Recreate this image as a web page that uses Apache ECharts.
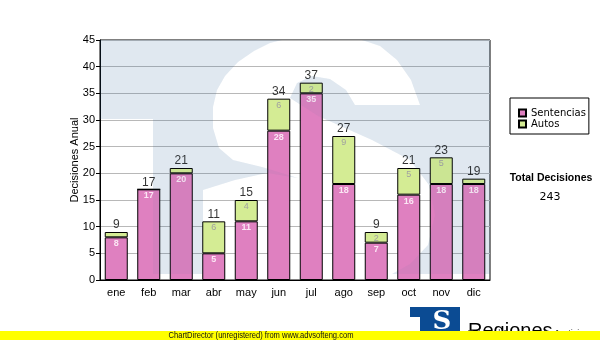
<!DOCTYPE html>
<html>
<head>
<meta charset="utf-8">
<script src="https://cdn.jsdelivr.net/npm/echarts@6/dist/echarts.min.js"></script>
<style>
  html, body { margin: 0; padding: 0; background: #fff; }
  #chart { width: 600px; height: 340px; }
</style>
</head>
<body>
<div id="chart"></div>
<script>
// Monthly decisions, split into sentences and writs
const months = ['ene', 'feb', 'mar', 'abr', 'may', 'jun', 'jul', 'ago', 'sep', 'oct', 'nov', 'dic'];
const sentencias = [8, 17, 20, 5, 11, 28, 35, 18, 7, 16, 18, 18];
const autos = [1, 0, 1, 6, 4, 6, 2, 9, 2, 5, 5, 1];
const seriesNames = ['Sentencias', 'Autos'];
const yMin = 0;
const yMax = 45;
const yStep = 5;

const totals = sentencias.map((v, i) => v + autos[i]);
const grandTotal = totals.reduce((a, b) => a + b, 0);

const AXIS_FONT = "'Liberation Sans', Arial, sans-serif";
const LEGEND_FONT = "'DejaVu Sans', Verdana, sans-serif";

// Faint "S" logo watermark in the plot, as the two blue pieces left on
// either side of the white letter. A stronger layer sits under the bars
// and a very light one over them, so the logo just tints the bars.
const watermarkLeft = [[100, 40], [282, 40], [270, 43], [254, 51], [238, 62], [225, 76], [217, 90],
  [213, 107], [213, 128], [219, 148], [233, 160], [262, 167], [298, 178], [267, 173], [235, 180],
  [203, 190], [203, 274], [153, 274], [153, 119], [100, 119]];
const watermarkRight = [[362, 40], [490, 40], [490, 274], [392, 274], [410, 264], [428, 245],
  [435, 215], [429, 185], [410, 160], [372, 140], [318, 116], [290, 98], [297, 83], [312, 76],
  [330, 79], [346, 90], [355, 105], [420, 105], [411, 80], [397, 60], [380, 46]];

function watermarkLayer(alpha, z) {
  const fill = 'rgba(51,102,153,' + alpha + ')';
  return [watermarkLeft, watermarkRight].map(points => ({
    type: 'polygon', z: z, silent: true,
    shape: { points: points },
    style: { fill: fill }
  }));
}

const chart = echarts.init(document.getElementById('chart'), null, { renderer: 'canvas' });

chart.setOption({
  animation: false,
  grid: {
    left: 100, right: 110, top: 40, bottom: 60,
    show: true, borderColor: '#000', borderWidth: 1, backgroundColor: 'transparent'
  },
  legend: {
    data: seriesNames,
    orient: 'vertical',
    left: 510, top: 98,
    padding: [10, 3, 5, 8],
    itemGap: 1,
    itemWidth: 7, itemHeight: 7,
    borderColor: '#000', borderWidth: 1,
    backgroundColor: '#fff',
    icon: 'rect',
    textStyle: { fontFamily: LEGEND_FONT, fontSize: 10, color: '#000', lineHeight: 10 }
  },
  xAxis: {
    type: 'category',
    data: months,
    axisLine: { lineStyle: { color: '#000', width: 1 } },
    axisTick: { alignWithLabel: true, length: 5, lineStyle: { color: '#000' } },
    axisLabel: { fontFamily: AXIS_FONT, fontSize: 11, color: '#000', margin: 7 }
  },
  yAxis: {
    type: 'value',
    min: yMin, max: yMax, interval: yStep,
    name: 'Decisiones Anual',
    nameLocation: 'middle',
    nameRotate: 90,
    nameGap: 20,
    nameMoveOverlap: false,
    nameTextStyle: { fontFamily: AXIS_FONT, fontSize: 11, color: '#000' },
    axisLine: { show: true, lineStyle: { color: '#000', width: 1 } },
    axisTick: { show: true, length: 4, lineStyle: { color: '#000' } },
    axisLabel: { fontFamily: AXIS_FONT, fontSize: 11, color: '#000', margin: 5 },
    splitLine: { lineStyle: { color: '#b8b8b8', width: 1 } }
  },
  series: [
    {
      name: seriesNames[0],
      type: 'bar',
      stack: 'total',
      data: sentencias,
      barWidth: 23,
      itemStyle: { color: '#df80c0', borderColor: '#000', borderWidth: 1 },
      label: {
        show: true, position: 'insideTop', distance: 2,
        fontFamily: AXIS_FONT, fontSize: 9, fontWeight: 'bold', color: '#fbe6f4',
        formatter: p => p.value > 1 ? String(p.value) : ''
      }
    },
    {
      name: seriesNames[1],
      type: 'bar',
      stack: 'total',
      data: autos,
      barWidth: 23,
      itemStyle: { color: '#d4ec94', borderColor: '#000', borderWidth: 1 },
      label: {
        show: true, position: 'insideTop', distance: 2,
        fontFamily: AXIS_FONT, fontSize: 9, color: '#a0a0a0',
        formatter: p => p.value > 1 ? String(p.value) : ''
      }
    },
    {
      name: 'total',
      type: 'scatter',
      data: totals,
      symbolSize: 0,
      silent: true,
      z: 5,
      label: {
        show: true, position: 'top', distance: 1,
        fontFamily: AXIS_FONT, fontSize: 12, color: '#000',
        formatter: p => String(p.value)
      }
    }
  ],
  graphic: [
    ...watermarkLayer(0.1, 1),
    ...watermarkLayer(0.055, 100),
    {
      type: 'text', z: 10,
      style: { x: 551, y: 178, text: 'Total Decisiones', fontFamily: AXIS_FONT, fontWeight: 'bold', fontSize: 10.5, fill: '#000', align: 'center', verticalAlign: 'middle' }
    },
    {
      type: 'text', z: 10,
      style: { x: 550, y: 197, text: String(grandTotal), fontFamily: LEGEND_FONT, fontSize: 11, fill: '#000', align: 'center', verticalAlign: 'middle' }
    },
    // footer logo
    {
      type: 'rect', z: 10,
      shape: { x: 410, y: 307, width: 50, height: 26 },
      style: { fill: '#0b4b93' }
    },
    {
      type: 'rect', z: 11,
      shape: { x: 410, y: 317, width: 10, height: 16 },
      style: { fill: '#fff' }
    },
    {
      type: 'text', z: 12,
      style: { x: 442, y: 322, text: 'S', fontFamily: "'DejaVu Serif', 'Liberation Serif', serif", fontWeight: 'bold', fontSize: 26, fill: '#fff', align: 'center', verticalAlign: 'middle' }
    },
    {
      type: 'text', z: 10,
      style: { x: 468, y: 321.5, text: 'Regiones', fontFamily: AXIS_FONT, fontSize: 20, fill: '#000', verticalAlign: 'alphabetic' }
    },
    {
      type: 'text', z: 10,
      style: { x: 468, y: 329.5, text: 'Tribunal Supremo de Justicia', fontFamily: AXIS_FONT, fontSize: 9, fill: '#333', verticalAlign: 'top' }
    },
    {
      type: 'rect', z: 20,
      shape: { x: 0, y: 331, width: 600, height: 9 },
      style: { fill: '#ffff00' }
    },
    {
      type: 'text', z: 21,
      x: 261, y: 336, scaleX: 0.84,
      style: { x: 0, y: 0, text: 'ChartDirector (unregistered) from www.advsofteng.com', fontFamily: AXIS_FONT, fontSize: 9, fill: '#111', align: 'center', verticalAlign: 'middle' }
    }
  ]
});
</script>
</body>
</html>
